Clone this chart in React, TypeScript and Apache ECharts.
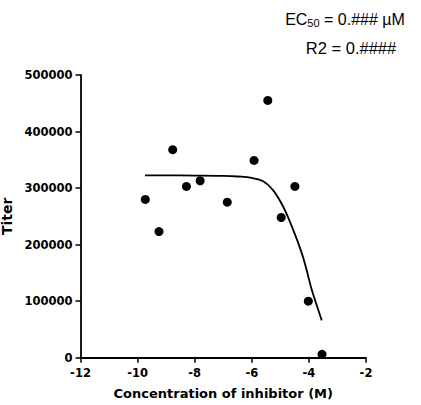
import React, { useEffect, useRef } from "react";
import * as echarts from "echarts";

const logConc = [-9.73, -9.25, -8.77, -8.29, -7.81, -6.86, -5.92, -5.44, -4.97, -4.49, -4.02, -3.54];
const titer = [280000, 223000, 368000, 303000, 313000, 275000, 349000, 455000, 248000, 303000, 100000, 6000];

const curveX = [-9.74, -9.0, -8.0, -7.0, -6.5, -6.0, -5.6, -5.25, -4.9, -4.55, -4.25, -4.08, -3.9, -3.72, -3.55];
const curveY = [322500, 322400, 322200, 321600, 320500, 318000, 312000, 296000, 267000, 226000, 185000, 155000, 120000, 92000, 66000];

const xTicks = { min: -12, max: -2, interval: 2 };
const yTicks = { min: 0, max: 500000, interval: 100000 };

export default function App() {
  const ref = useRef<HTMLDivElement>(null);
  useEffect(() => {
    if (!ref.current) return;
    const chart = echarts.init(ref.current, null, { renderer: "svg" });
    const labelFont = { fontFamily: "DejaVu Sans", fontWeight: "bold" as const, fontSize: 11.5, color: "#000" };
    chart.setOption({
      animation: false,
      backgroundColor: "#fff",
      grid: { left: 80.5, right: 55, top: 75, bottom: 47.3, containLabel: false, outerBoundsMode: "none" },
      xAxis: {
        type: "value",
        min: xTicks.min,
        max: xTicks.max,
        interval: xTicks.interval,
        name: "Concentration of inhibitor (M)",
        nameLocation: "middle",
        nameGap: 29,
        nameTextStyle: { fontFamily: "DejaVu Sans", fontWeight: "bold", fontSize: 13, color: "#000" },
        axisLine: { onZero: false, lineStyle: { color: "#000", width: 1.8 } },
        axisTick: { show: true, inside: false, length: 5, lineStyle: { color: "#000", width: 1.5 } },
        axisLabel: { ...labelFont, margin: 9, formatter: (v: number) => String(v) },
        splitLine: { show: false },
      },
      yAxis: {
        type: "value",
        min: yTicks.min,
        max: yTicks.max,
        interval: yTicks.interval,
        name: "Titer",
        nameLocation: "middle",
        nameGap: 56,
        nameRotate: 90,
        nameTextStyle: { fontFamily: "DejaVu Sans", fontWeight: "bold", fontSize: 14, color: "#000" },
        axisLine: { show: true, lineStyle: { color: "#000", width: 1.8 } },
        axisTick: { show: true, inside: false, length: 5, lineStyle: { color: "#000", width: 1.5 } },
        axisLabel: { ...labelFont, margin: 8, formatter: (v: number) => String(v) },
        splitLine: { show: false },
      },
      series: [
        {
          type: "line",
          data: curveX.map((x, i) => [x, curveY[i]]),
          smooth: 0.4,
          showSymbol: false,
          symbol: "none",
          lineStyle: { color: "#000", width: 1.8 },
          z: 2,
        },
        {
          type: "scatter",
          data: logConc.map((x, i) => [x, titer[i]]),
          symbol: "circle",
          symbolSize: 9,
          itemStyle: { color: "#000", opacity: 1 },
          z: 3,
        },
      ],
      graphic: [
        {
          type: "text",
          x: 345,
          y: 19,
          style: {
            text: "EC{sub|50} = 0.### µM",
            textAlign: "center",
            textVerticalAlign: "middle",
            fontFamily: "Liberation Sans",
            fontSize: 16,
            fill: "#000",
            rich: {
              sub: { fontFamily: "Liberation Sans", fontSize: 11, verticalAlign: "bottom", padding: [8, 0, 0, 0] },
            },
          },
        },
        {
          type: "text",
          x: 351,
          y: 48,
          style: {
            text: "R2 = 0.####",
            textAlign: "center",
            textVerticalAlign: "middle",
            fontFamily: "Liberation Sans",
            fontSize: 16.5,
            fill: "#000",
          },
        },
      ],
    });
    return () => chart.dispose();
  }, []);
  return <div ref={ref} style={{ width: 421, height: 405, position: "absolute", left: 0, top: 0 }} />;
}
